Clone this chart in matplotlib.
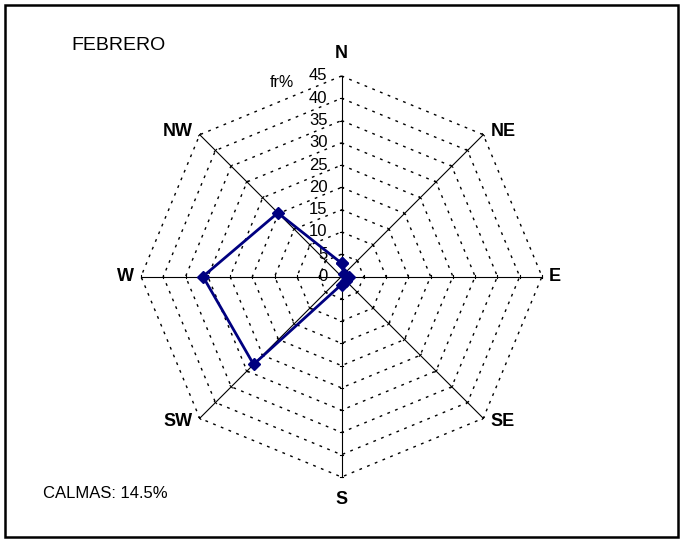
import numpy as np
import matplotlib
matplotlib.use("Agg")
import matplotlib.pyplot as plt
from matplotlib.patches import Rectangle

# ---- data ----
directions = ["N", "NE", "E", "SE", "S", "SW", "W", "NW"]
freq = [3.0, 0.8, 1.6, 1.4, 1.8, 27.9, 31.1, 20.2]
rings = [5, 10, 15, 20, 25, 30, 35, 40, 45]
tick_labels = ["0", "5", "10", "15", "20", "25", "30", "35", "40", "45"]
title = "FEBRERO"
calmas = "CALMAS: 14.5%"
unit = "fr%"

plt.rcParams['font.family'] = ['Liberation Sans', 'DejaVu Sans']

W, H = 682, 540
fig = plt.figure(figsize=(W / 100, H / 100), dpi=100)
ax = fig.add_axes([0, 0, 1, 1])
ax.set_axis_off()

cx, cy, rad_px = 341.5, 276.5, 200.5
rmax = 45.0
s = rad_px / rmax  # pixels per unit
ax.set_xlim(-cx / s, (W - cx) / s)
ax.set_ylim(-(H - cy) / s, cy / s)

ang = np.deg2rad(np.arange(8) * 45.0)
sx, sy = np.sin(ang), np.cos(ang)

# octagonal dotted grid
for r in rings:
    xs = np.append(r * sx, r * sx[0])
    ys = np.append(r * sy, r * sy[0])
    ax.plot(xs, ys, color="black", lw=1.0, linestyle=(0, (2, 4)), zorder=1)

# radial axes + small ticks
tick_half = 0.35
for i in range(8):
    ax.plot([0, rmax * sx[i]], [0, rmax * sy[i]], color="black", lw=0.8, zorder=2)
    px, py = -sy[i], sx[i]
    for r in rings:
        x0, y0 = r * sx[i], r * sy[i]
        ax.plot([x0 - tick_half * px, x0 + tick_half * px],
                [y0 - tick_half * py, y0 + tick_half * py],
                color="black", lw=0.8, zorder=2)

# radial tick labels on N axis
for k, lab in enumerate(tick_labels):
    r = k * 5
    ax.text(-14 / s, r, lab, ha="right", va="center", fontsize=12, zorder=3)

ax.text(-47.5 / s, rmax - 1.5, unit, ha="right", va="center", fontsize=11.5)

# data polygon
vals = np.array(freq)
xs = np.append(vals * sx, vals[0] * sx[0])
ys = np.append(vals * sy, vals[0] * sy[0])
ax.plot(xs, ys, color="#000080", lw=2.0, marker="D", markersize=6.5,
        markeredgecolor="#000080", markerfacecolor="#000080", zorder=5)

# direction labels
lab_cfg = {
    "N": (0, 23, "center", "center"),
    "NE": (7, 3, "left", "center"),
    "E": (7, 0, "left", "center"),
    "SE": (7, -3, "left", "center"),
    "S": (0, -23, "center", "center"),
    "SW": (-7, -3, "right", "center"),
    "W": (-7, 0, "right", "center"),
    "NW": (-7, 3, "right", "center"),
}
for i, d in enumerate(directions):
    ox, oy, ha, va = lab_cfg[d]
    ax.text(rmax * sx[i] + ox / s, rmax * sy[i] + oy / s, d, ha=ha, va=va,
            fontsize=13, fontweight="bold")

# free texts
ax.text((71 - cx) / s, (cy - 46) / s, title, ha="left", va="center", fontsize=14)
ax.text((43 - cx) / s, (cy - 493) / s, calmas, ha="left", va="center", fontsize=12)

# border
fig.patches.append(Rectangle((5 / W, (H - 537) / H), 673 / W, 532 / H,
                             transform=fig.transFigure, fill=False,
                             edgecolor="black", lw=1.8))

fig.savefig("out.png", dpi=100)
